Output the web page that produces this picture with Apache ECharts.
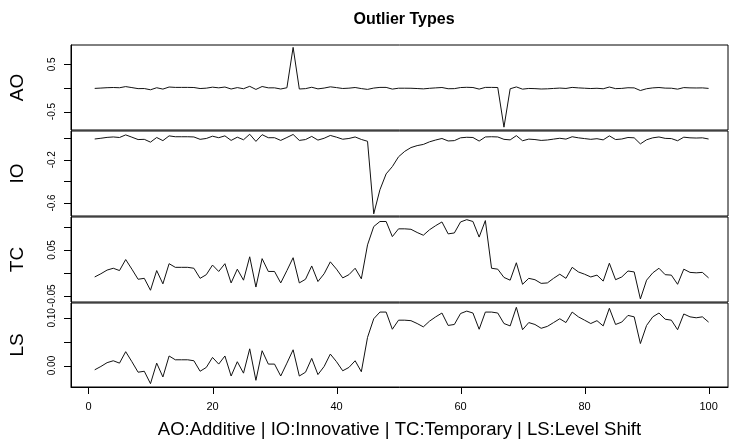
<!DOCTYPE html>
<html>
<head>
<meta charset="utf-8">
<title>Outlier Types</title>
<script src="https://cdn.jsdelivr.net/npm/echarts@6/dist/echarts.min.js"></script>
<style>
    html, body { margin: 0; padding: 0; background: #fff; }
    #main { width: 730px; height: 440px; }
</style>
</head>
<body>
<div id="main"></div>
<script>
// 时间序列的四种异常值类型（读图估计的数值）
const panelNames = ['AO', 'IO', 'TC', 'LS']

// AO: Additive outlier
const aoValues = [
    -0.009, -0.002, 0.006, 0.010, 0.005, 0.029, 0.008, -0.014, -0.012, -0.038,
    0.005, -0.024, 0.020, 0.012, 0.012, 0.012, 0.010, -0.012, -0.004, 0.017,
    0.003, 0.020, -0.022, 0.008, -0.016, 0.035, -0.031, 0.031, 0.003, 0.003,
    -0.022, 0.005, 0.860, -0.022, -0.014, 0.015, -0.019, -0.002, 0.024, 0.008,
    -0.011, -0.004, 0.010, -0.013, -0.030, -0.002, 0.012, 0.012, -0.024, -0.005,
    -0.005, -0.006, -0.012, -0.019, -0.007, 0.002, 0.010, -0.016, -0.014, 0.009,
    0.014, 0.010, -0.024, 0.012, 0.012, 0.010, -0.830, -0.017, 0.022, -0.025,
    -0.010, -0.014, -0.022, -0.018, -0.010, -0.002, -0.010, 0.012, 0.002, -0.005,
    -0.012, -0.006, -0.017, 0.020, -0.014, -0.009, 0.005, 0.002, -0.054, -0.016,
    0.002, 0.010, -0.003, -0.005, -0.025, 0.008, 0.002, 0.000, 0.002, -0.009,
]

// IO: Innovative outlier
const ioValues = [
    -0.009, -0.002, 0.006, 0.010, 0.005, 0.029, 0.008, -0.014, -0.012, -0.038,
    0.005, -0.024, 0.020, 0.012, 0.012, 0.012, 0.010, -0.012, -0.004, 0.017,
    0.003, 0.020, -0.022, 0.008, -0.016, 0.035, -0.031, 0.031, 0.003, 0.003,
    -0.022, 0.005, 0.033, -0.022, -0.014, 0.015, -0.019, -0.002, 0.024, 0.008,
    -0.011, -0.004, 0.010, -0.013, -0.030, -0.700, -0.478, -0.331, -0.264, -0.173,
    -0.123, -0.088, -0.070, -0.059, -0.035, -0.018, -0.004, -0.027, -0.024, 0.002,
    0.007, 0.005, -0.028, 0.010, 0.012, 0.010, -0.012, -0.017, 0.022, -0.025,
    -0.010, -0.014, -0.022, -0.018, -0.010, -0.002, -0.010, 0.012, 0.002, -0.005,
    -0.012, -0.006, -0.017, 0.020, -0.014, -0.009, 0.005, 0.002, -0.054, -0.016,
    0.002, 0.010, -0.003, -0.005, -0.025, 0.008, 0.002, 0.000, 0.002, -0.009,
]

// TC: Temporary change
const tcValues = [
    -0.009, -0.002, 0.006, 0.010, 0.005, 0.029, 0.008, -0.014, -0.012, -0.038,
    0.005, -0.024, 0.020, 0.012, 0.012, 0.012, 0.010, -0.012, -0.004, 0.017,
    0.003, 0.020, -0.022, 0.008, -0.016, 0.035, -0.031, 0.031, 0.003, 0.003,
    -0.022, 0.005, 0.033, -0.022, -0.014, 0.015, -0.019, -0.002, 0.024, 0.008,
    -0.011, -0.004, 0.010, -0.013, 0.061, 0.101, 0.112, 0.112, 0.079, 0.096,
    0.096, 0.095, 0.088, 0.082, 0.094, 0.103, 0.111, 0.085, 0.087, 0.111,
    0.116, 0.112, 0.078, 0.114, 0.010, 0.008, -0.010, -0.016, 0.022, -0.025,
    -0.012, -0.015, -0.023, -0.022, -0.012, -0.003, -0.012, 0.012, 0.002, -0.003,
    -0.009, -0.005, -0.018, 0.021, -0.015, -0.009, 0.004, 0.002, -0.057, -0.016,
    0.000, 0.010, -0.004, -0.005, -0.025, 0.008, 0.001, 0.000, 0.001, -0.011,
]

// LS: Level shift
const lsValues = [
    -0.009, -0.002, 0.006, 0.010, 0.005, 0.029, 0.008, -0.014, -0.012, -0.038,
    0.005, -0.024, 0.020, 0.012, 0.012, 0.012, 0.010, -0.012, -0.004, 0.017,
    0.003, 0.020, -0.022, 0.008, -0.016, 0.035, -0.031, 0.031, 0.003, 0.003,
    -0.022, 0.005, 0.033, -0.022, -0.014, 0.015, -0.019, -0.002, 0.024, 0.008,
    -0.011, -0.004, 0.010, -0.013, 0.059, 0.098, 0.112, 0.112, 0.076, 0.095,
    0.095, 0.094, 0.088, 0.081, 0.093, 0.102, 0.110, 0.084, 0.086, 0.109,
    0.114, 0.110, 0.076, 0.112, 0.112, 0.110, 0.088, 0.083, 0.122, 0.075,
    0.090, 0.086, 0.078, 0.082, 0.090, 0.098, 0.090, 0.112, 0.102, 0.095,
    0.088, 0.094, 0.083, 0.120, 0.086, 0.091, 0.105, 0.102, 0.046, 0.084,
    0.102, 0.110, 0.097, 0.095, 0.075, 0.108, 0.102, 0.100, 0.102, 0.091,
]

// 刻度
const xTicks = [0, 20, 40, 60, 80, 100]
const aoTicks = [-0.5, 0, 0.5]
const aoLabels = [-0.5, 0.5]
const ioTicks = [-0.6, -0.4, -0.2, 0]
const ioLabels = [-0.6, -0.2]
const tcTicks = [-0.05, 0, 0.05, 0.1]
const tcLabels = [-0.05, 0.05]
const lsTicks = [0, 0.05, 0.1]
const lsLabels = [0, 0.1]

const allValues = [aoValues, ioValues, tcValues, lsValues]
const allTicks = [aoTicks, ioTicks, tcTicks, lsTicks]
const allLabels = [aoLabels, ioLabels, tcLabels, lsLabels]
const yRanges = [[-0.89, 0.91], [-0.72, 0.065], [-0.0636, 0.1218], [-0.045, 0.131]]
const xRange = [-2.82, 103.13]
const labelDigits = [1, 1, 2, 2]

const fontFamily = '"Liberation Sans", Arial, sans-serif'
const tickLen = 7
const chart = echarts.init(document.getElementById('main'))

const grids = []
const xAxes = []
const yAxes = []
const series = []

panelNames.forEach((name, k) => {
    const isLast = k === panelNames.length - 1
    grids.push({
        left: 71,
        width: 657,
        top: 45 + k * 86,
        height: 85,
        show: true,
        borderColor: '#000',
        borderWidth: 1,
    })
    xAxes.push({
        type: 'value',
        gridIndex: k,
        min: xRange[0],
        max: xRange[1],
        show: isLast,
        splitLine: { show: false },
        axisLine: { onZero: false, lineStyle: { color: '#000' } },
        // 刻度线下面用 graphic 画
        axisTick: { show: false },
        axisLabel: {
            customValues: xTicks,
            margin: 14,
            fontSize: 11,
            color: '#000',
            fontFamily: fontFamily,
        },
        name: isLast ? 'AO:Additive | IO:Innovative | TC:Temporary | LS:Level Shift' : '',
        nameLocation: 'middle',
        nameGap: 33,
        nameTextStyle: { fontSize: 18.5, color: '#000', fontFamily: fontFamily },
    })
    yAxes.push({
        type: 'value',
        gridIndex: k,
        min: yRanges[k][0],
        max: yRanges[k][1],
        splitLine: { show: false },
        axisLine: { show: true, onZero: false, lineStyle: { color: '#000' } },
        axisTick: { show: false },
        axisLabel: {
            customValues: allLabels[k],
            rotate: 90,
            margin: 14,
            fontSize: 10,
            color: '#000',
            fontFamily: fontFamily,
            formatter: (v) => v.toFixed(labelDigits[k]),
        },
        name: name,
        nameLocation: 'middle',
        nameRotate: 90,
        nameGap: 44,
        nameTextStyle: { fontSize: 19, color: '#000', fontFamily: fontFamily },
    })
    series.push({
        type: 'line',
        xAxisIndex: k,
        yAxisIndex: k,
        data: allValues[k].map((v, i) => [i + 1, v]),
        showSymbol: false,
        lineStyle: { color: '#111', width: 1 },
        animation: false,
    })
})

chart.setOption({
    animation: false,
    title: {
        text: 'Outlier Types',
        left: 399,
        textAlign: 'center',
        top: 7,
        textStyle: { fontSize: 16, fontWeight: 'bold', color: '#000', fontFamily: fontFamily },
    },
    grid: grids,
    xAxis: xAxes,
    yAxis: yAxes,
    series: series,
})

// 刻度线：位置通过坐标轴换算得到
const tickLines = []
const crisp = (v) => Math.round(v) + 0.5
panelNames.forEach((name, k) => {
    const leftPx = chart.convertToPixel({ xAxisIndex: k }, xRange[0])
    allTicks[k].forEach((v) => {
        const py = crisp(chart.convertToPixel({ yAxisIndex: k }, v))
        tickLines.push({
            type: 'line',
            z: 100,
            shape: { x1: leftPx - tickLen, y1: py, x2: leftPx, y2: py },
            style: { stroke: '#000', lineWidth: 1 },
            silent: true,
        })
    })
})
const lastIdx = panelNames.length - 1
const bottomPx = chart.convertToPixel({ yAxisIndex: lastIdx }, yRanges[lastIdx][0])
xTicks.forEach((v) => {
    const px = crisp(chart.convertToPixel({ xAxisIndex: lastIdx }, v))
    tickLines.push({
        type: 'line',
        z: 100,
        shape: { x1: px, y1: bottomPx, x2: px, y2: bottomPx + tickLen },
        style: { stroke: '#000', lineWidth: 1 },
        silent: true,
    })
})
chart.setOption({ graphic: tickLines })
</script>
</body>
</html>
